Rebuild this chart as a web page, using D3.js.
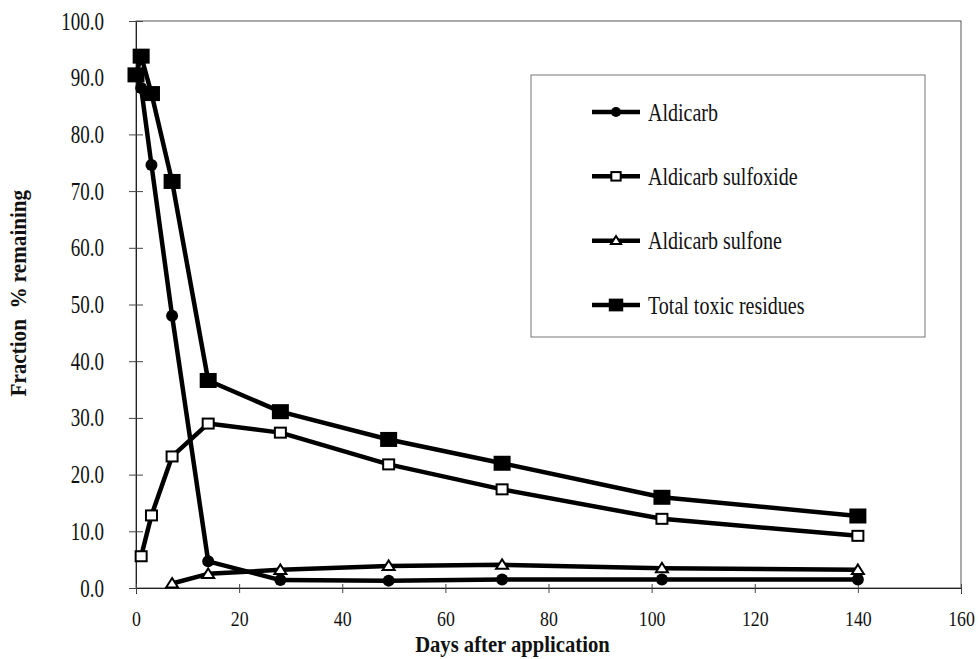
<!DOCTYPE html>
<html>
<head>
<meta charset="utf-8">
<script src="https://cdn.jsdelivr.net/npm/d3@7"></script>
<style>
  body { margin: 0; background: #fff; }
  text { font-family: "Liberation Serif", "Times New Roman", serif; fill: #111; }
</style>
</head>
<body>
<div id="chart"></div>
<script>
// days after application (x values)
const days = [0, 1, 3, 7, 14, 28, 49, 71, 102, 140];

// series values, % remaining (null = not measured)
const aldicarb  = [90.5, 88.2, 74.6, 48.0, 4.7, 1.4, 1.3, 1.5, 1.5, 1.5];
const sulfoxide = [null, 5.6, 12.8, 23.2, 29.0, 27.4, 21.8, 17.4, 12.2, 9.2];
const sulfone   = [null, null, null, 0.8, 2.5, 3.2, 3.9, 4.1, 3.5, 3.2];
const total     = [90.5, 93.8, 87.2, 71.7, 36.6, 31.1, 26.2, 22.0, 16.0, 12.7];

const seriesNames = ["Aldicarb", "Aldicarb sulfoxide", "Aldicarb sulfone", "Total toxic residues"];
const xTicks = [0, 20, 40, 60, 80, 100, 120, 140, 160];
const yTicks = [0, 10, 20, 30, 40, 50, 60, 70, 80, 90, 100];

const width = 979, height = 659;
const margin = { top: 21, right: 18, bottom: 71, left: 136 };

const svg = d3.select("#chart").append("svg")
  .attr("width", width)
  .attr("height", height);

const x = d3.scaleLinear().domain([0, 160]).range([margin.left, width - margin.right]);
const y = d3.scaleLinear().domain([0, 100]).range([height - margin.bottom, margin.top]);

// squeeze text horizontally, the scanned font is narrow
function squeeze(sel, k) {
  sel.each(function() {
    const w = this.getComputedTextLength();
    d3.select(this).attr("textLength", w * k).attr("lengthAdjust", "spacingAndGlyphs");
  });
}

// plot frame
svg.append("rect")
  .attr("x", x(0)).attr("y", y(100))
  .attr("width", x(160) - x(0)).attr("height", y(0) - y(100))
  .attr("fill", "none").attr("stroke", "#555").attr("stroke-width", 1);

// y axis
const yAxis = svg.append("g")
  .attr("transform", `translate(${x(0)},0)`)
  .call(d3.axisLeft(y).tickValues(yTicks).tickFormat(d => d.toFixed(1)).tickSize(6).tickPadding(26));
yAxis.select(".domain").attr("stroke", "#222");
yAxis.selectAll(".tick line").attr("x1", -7).attr("x2", 7).attr("stroke", "#444");
yAxis.selectAll("text").attr("font-size", "25px").attr("font-family", null).attr("fill", "#222")
  .call(squeeze, 0.76);

// x axis
const xAxis = svg.append("g")
  .attr("transform", `translate(0,${y(0)})`)
  .call(d3.axisBottom(x).tickValues(xTicks).tickFormat(d3.format("d")).tickSize(6).tickPadding(16));
xAxis.select(".domain").attr("stroke", "#222");
xAxis.selectAll(".tick line").attr("y1", -4).attr("y2", 5).attr("stroke", "#444");
xAxis.selectAll("text").attr("font-size", "22px").attr("font-family", null).attr("fill", "#222")
  .call(squeeze, 0.81);

// axis titles
svg.append("text")
  .attr("x", x(73)).attr("y", 652)
  .attr("text-anchor", "middle")
  .attr("font-size", "24px").attr("font-weight", "bold")
  .text("Days after application")
  .call(squeeze, 0.86);

svg.append("text")
  .attr("transform", `translate(26,${y(52)}) rotate(-90)`)
  .attr("text-anchor", "middle")
  .attr("font-size", "24px").attr("font-weight", "bold")
  .style("white-space", "pre")
  .text("Fraction  % remaining")
  .call(squeeze, 0.88);

// series setup
const all = [aldicarb, sulfoxide, sulfone, total].map((vals, i) => ({
  name: seriesNames[i],
  points: days.map((d, j) => ({ day: d, v: vals[j] })).filter(p => p.v !== null)
}));

const line = d3.line().x(p => x(p.day)).y(p => y(p.v));

const lines = svg.append("g").attr("fill", "none").attr("stroke", "#000").attr("stroke-width", 4.5)
  .attr("stroke-linejoin", "round");

function drawMarker(g, i, cx, cy, s) {
  if (i === 0) {
    g.append("circle").attr("cx", cx).attr("cy", cy).attr("r", 6 * s).attr("fill", "#000");
  } else if (i === 1) {
    g.append("rect").attr("x", cx - 5.5 * s).attr("y", cy - 5 * s)
      .attr("width", 11 * s).attr("height", 10 * s)
      .attr("fill", "#fff").attr("stroke", "#000").attr("stroke-width", 2);
  } else if (i === 2) {
    const h = 9 * s, w = 6 * s;
    g.append("path")
      .attr("d", `M${cx},${cy - h * 0.6}L${cx + w},${cy + h * 0.45}L${cx - w},${cy + h * 0.45}Z`)
      .attr("fill", "#fff").attr("stroke", "#000").attr("stroke-width", 2);
  } else {
    g.append("rect").attr("x", cx - 8.5 * s).attr("y", cy - 7.5 * s)
      .attr("width", 17 * s).attr("height", 15 * s).attr("fill", "#000");
  }
}

all.forEach((s, i) => {
  lines.append("path").datum(s.points).attr("d", line);
  const g = svg.append("g");
  s.points.forEach(p => drawMarker(g, i, x(p.day), y(p.v), 1));
});

// legend
const lg = svg.append("g");
lg.append("rect")
  .attr("x", 531).attr("y", 75).attr("width", 394).attr("height", 262)
  .attr("fill", "#fff").attr("stroke", "#777").attr("stroke-width", 1);

const ly = d3.scalePoint().domain(seriesNames).range([112, 305]);
seriesNames.forEach((name, i) => {
  const yy = ly(name);
  lg.append("line").attr("x1", 592).attr("x2", 640).attr("y1", yy).attr("y2", yy)
    .attr("stroke", "#000").attr("stroke-width", 4.5);
  drawMarker(lg, i, 616, yy, 0.85);
  lg.append("text").attr("x", 648).attr("y", yy).attr("dy", "0.33em")
    .attr("font-size", "26px").text(name)
    .call(squeeze, 0.77);
});
</script>
</body>
</html>
